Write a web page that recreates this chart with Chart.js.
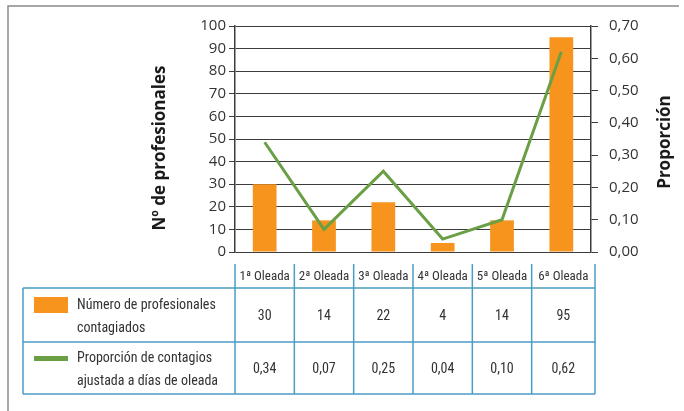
<!DOCTYPE html>
<html>
<head>
<meta charset="utf-8">
<script src="https://cdn.jsdelivr.net/npm/chart.js@4/dist/chart.umd.min.js"></script>
<style>
  body { margin: 0; background: #fff; }
  #wrap { width: 684px; height: 411px; }
</style>
</head>
<body>
<div id="wrap"><canvas id="myChart" width="684" height="411"></canvas></div>
<script>
// datos
var oleadas = ["1ª Oleada", "2ª Oleada", "3ª Oleada", "4ª Oleada", "5ª Oleada", "6ª Oleada"];
var profesionales = [30, 14, 22, 4, 14, 95];
var proporcion = [0.34, 0.07, 0.25, 0.04, 0.10, 0.62];
var nombresSeries = [["Número de profesionales", "contagiados"], ["Proporción de contagios", "ajustada a días de oleada"]];
var tituloIzq = "Nº de profesionales";
var tituloDer = "Proporción";

var naranja = "#F7941D";
var verde = "#6A9F45";
var azulTabla = "#4B9DC3";
var textoColor = "#333333";
var fuenteNarrow = '"Roboto Condensed", "DejaVu Sans Condensed", sans-serif';

function coma(v, d) {
  return v.toFixed(d).replace(".", ",");
}

// marco, titulos y tabla de datos
var extras = {
  id: "extras",
  afterDraw: function(chart) {
    var ctx = chart.ctx;
    var area = chart.chartArea;
    ctx.save();

    // marco exterior
    ctx.strokeStyle = "#8a8a8a";
    ctx.lineWidth = 1.5;
    ctx.beginPath();
    ctx.moveTo(8, 411);
    ctx.lineTo(8, 6);
    ctx.lineTo(679, 6);
    ctx.stroke();

    // titulos de ejes
    ctx.fillStyle = "#1a1a1a";
    ctx.font = 'bold 17px "Open Sans", sans-serif';
    ctx.textAlign = "center";
    ctx.textBaseline = "middle";
    ctx.save();
    ctx.translate(160, 148);
    ctx.rotate(-Math.PI / 2);
    ctx.fillText(tituloIzq, 0, 0);
    ctx.restore();
    ctx.save();
    ctx.translate(665, 142);
    ctx.rotate(-Math.PI / 2);
    ctx.fillText(tituloDer, 0, 0);
    ctx.restore();

    // tabla
    var n = oleadas.length;
    var w = (area.right - area.left) / n;
    var bordes = [];
    for (var i = 0; i <= n; i++) bordes.push(area.left + i * w);
    bordes[n] = area.right + 4;
    var tablaIzq = 23;
    var cabTop = area.bottom + 12;
    var cabBot = area.bottom + 36;
    var fila1 = area.bottom + 90;
    var fila2 = area.bottom + 142;

    ctx.strokeStyle = azulTabla;
    ctx.lineWidth = 1.5;
    ctx.beginPath();
    for (var i = 0; i <= n; i++) {
      ctx.moveTo(bordes[i], cabTop);
      ctx.lineTo(bordes[i], fila2);
    }
    ctx.moveTo(tablaIzq, cabBot); ctx.lineTo(bordes[n], cabBot);
    ctx.moveTo(tablaIzq, fila1); ctx.lineTo(bordes[n], fila1);
    ctx.moveTo(tablaIzq, fila2); ctx.lineTo(bordes[n], fila2);
    ctx.moveTo(tablaIzq, cabBot); ctx.lineTo(tablaIzq, fila2);
    ctx.stroke();

    ctx.fillStyle = textoColor;
    ctx.textAlign = "center";
    ctx.font = "13px " + fuenteNarrow;
    for (var i = 0; i < n; i++) {
      var cx = (bordes[i] + bordes[i + 1]) / 2;
      ctx.fillText(oleadas[i], cx, (cabTop + cabBot) / 2 + 1);
    }
    ctx.font = "14px " + fuenteNarrow;
    for (var i = 0; i < n; i++) {
      var cx = (bordes[i] + bordes[i + 1]) / 2;
      ctx.fillText(String(profesionales[i]), cx, (cabBot + fila1) / 2 + 1);
      ctx.fillText(coma(proporcion[i], 2), cx, (fila1 + fila2) / 2 + 1);
    }

    // leyenda dentro de la tabla
    ctx.fillStyle = naranja;
    ctx.fillRect(34, cabBot + 9, 34, 16);
    ctx.fillStyle = verde;
    ctx.fillRect(34, fila1 + 14, 34, 5);
    ctx.fillStyle = textoColor;
    ctx.textAlign = "left";
    ctx.fillText(nombresSeries[0][0], 77, cabBot + 17);
    ctx.fillText(nombresSeries[0][1], 77, cabBot + 40);
    ctx.fillText(nombresSeries[1][0], 77, fila1 + 16);
    ctx.fillText(nombresSeries[1][1], 77, fila1 + 39);
    ctx.restore();
  }
};

var chart = new Chart("myChart", {
  type: "bar",
  data: {
    labels: oleadas,
    datasets: [{
      type: "line",
      label: "Proporción de contagios ajustada a días de oleada",
      data: proporcion,
      yAxisID: "y1",
      borderColor: verde,
      borderWidth: 3,
      pointRadius: 0,
      tension: 0,
      fill: false,
      order: 0
    }, {
      label: "Número de profesionales contagiados",
      data: profesionales,
      yAxisID: "y",
      backgroundColor: naranja,
      barPercentage: 0.4,
      categoryPercentage: 1,
      order: 1
    }]
  },
  options: {
    responsive: false,
    animation: false,
    layout: { padding: { top: 26, bottom: 159, left: 0, right: 0 } },
    plugins: {
      legend: { display: false },
      tooltip: { enabled: false }
    },
    scales: {
      x: { display: false },
      y: {
        position: "left",
        min: 0,
        max: 100,
        ticks: {
          stepSize: 10,
          padding: 3,
          color: textoColor,
          font: { family: '"Open Sans", sans-serif', size: 15 }
        },
        grid: { color: "#3c3c3c", lineWidth: 1, tickLength: 6 },
        border: { color: "#3c3c3c", width: 1.5 },
        afterFit: function(s) { s.width = 235; }
      },
      y1: {
        position: "right",
        min: 0,
        max: 0.7,
        ticks: {
          stepSize: 0.1,
          padding: 11,
          color: textoColor,
          font: { family: '"Open Sans", sans-serif', size: 15 },
          callback: function(v) { return coma(v, 2); }
        },
        grid: { drawOnChartArea: false, color: "#3c3c3c", tickLength: 7 },
        border: { color: "#3c3c3c", width: 1.5 },
        afterFit: function(s) { s.width = 93; }
      }
    }
  },
  plugins: [extras]
});
</script>
</body>
</html>
